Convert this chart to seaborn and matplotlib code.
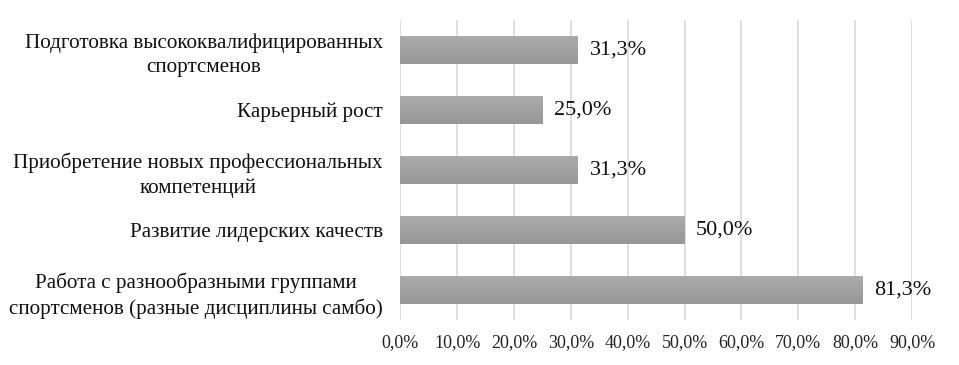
import numpy as np
import pandas as pd
import matplotlib
matplotlib.use("Agg")
import matplotlib.pyplot as plt
import seaborn as sns

categories = [
    "Подготовка высококвалифицированных\nспортсменов",
    "Карьерный рост",
    "Приобретение новых профессиональных\nкомпетенций",
    "Развитие лидерских качеств",
    "Работа с разнообразными группами\nспортсменов (разные дисциплины самбо)",
]
values = [31.3, 25.0, 31.3, 50.0, 81.3]
value_labels = ["31,3%", "25,0%", "31,3%", "50,0%", "81,3%"]
x_ticks = [0, 10, 20, 30, 40, 50, 60, 70, 80, 90]
x_tick_labels = ["0,0%", "10,0%", "20,0%", "30,0%", "40,0%", "50,0%",
                 "60,0%", "70,0%", "80,0%", "90,0%"]

sns.set_theme(style="white")
plt.rcParams["font.family"] = ["Liberation Serif", "DejaVu Serif"]

df = pd.DataFrame({"cat": categories, "val": values})

fig = plt.figure(figsize=(9.59, 3.65), dpi=100)
ax = fig.add_axes([0.4176, 0.1233, 0.951 - 0.4176, 0.945 - 0.1233])

sns.barplot(data=df, y="cat", x="val", orient="h", color="#a2a2a2",
            width=0.48, ax=ax, saturation=1)

# gradient fill clipped to each bar
grad = np.linspace(0, 1, 64).reshape(-1, 1)
cmap = matplotlib.colors.LinearSegmentedColormap.from_list("g", ["#acacac", "#979797"])
for p in ax.patches:
    p.set_edgecolor("none")
    bb = p.get_bbox()
    im = ax.imshow(grad, cmap=cmap, aspect="auto",
                   extent=[bb.x0, bb.x1, bb.y1, bb.y0], zorder=p.get_zorder() + 0.1)
    im.set_clip_path(p)

ax.set_xlim(0, 90)
ax.set_ylim(4.5, -0.5)
ax.set_xticks(x_ticks)
ax.set_xticklabels(x_tick_labels, fontsize=13, color="#222222")
ax.set_yticks(range(len(categories)))
ax.set_yticklabels(categories, fontsize=15.2, color="#111111",
                   multialignment="center", linespacing=1.38)
ax.set_xlabel("")
ax.set_ylabel("")
ax.xaxis.grid(True, color="#d9d9d9", linewidth=1.2)
ax.set_axisbelow(True)
for s in ax.spines.values():
    s.set_visible(False)
ax.tick_params(axis="both", length=0)
ax.tick_params(axis="y", pad=12.5)
ax.tick_params(axis="x", pad=10)

for i, (v, t) in enumerate(zip(values, value_labels)):
    ax.annotate(t, xy=(v, i), xytext=(8, 0), textcoords="offset points",
                va="center", ha="left", fontsize=16, color="#111111")

fig.savefig("out.png", dpi=100)
